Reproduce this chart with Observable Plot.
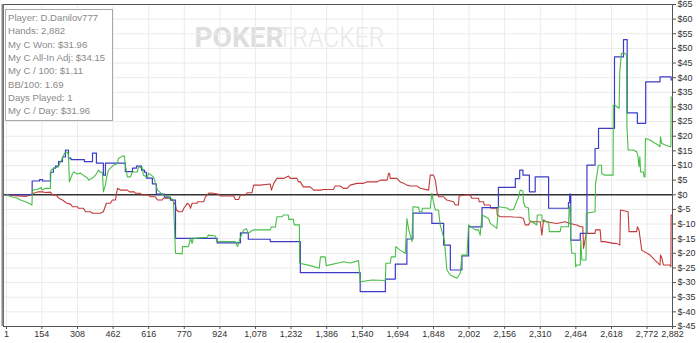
<!DOCTYPE html>
<html>
<head>
<meta charset="utf-8">
<script src="https://cdn.jsdelivr.net/npm/d3@7"></script>
<script src="https://cdn.jsdelivr.net/npm/@observablehq/plot@0.6"></script>
<style>
  html, body { margin: 0; padding: 0; background: #fff; }
  #wrap { position: relative; width: 700px; height: 343px; overflow: hidden; }
  #stats { position: absolute; left: 5px; top: 9px; width: 108px; height: 112px; box-sizing: border-box;
           border: 1px solid #a8a8a8; background: rgba(255,255,255,0.92);
           font-family: "Liberation Sans Narrow", "Arial Narrow", sans-serif; font-size: 9.6px; color: #8a8a8a; padding: 1px 0 0 2px; }
  #stats div { height: 13.35px; line-height: 13.35px; white-space: nowrap; }
</style>
</head>
<body>
<div id="wrap"></div>
<script>
// ---- Data (hand number, cumulative $) ----
const xTicks = [1,154,308,462,616,770,924,1078,1232,1386,1540,1694,1848,2002,2156,2310,2464,2618,2772,2882];
const yTicks = d3.range(-45, 70, 5);

const statsLines = [
  "Player: D.Danilov777",
  "Hands: 2,882",
  "My C Won: $31.96",
  "My C All-In Adj: $34.15",
  "My C / 100: $1.11",
  "BB/100: 1.69",
  "Days Played: 1",
  "My C / Day: $31.96"
];

// blue: showdown winnings (step changes)
const blueSeries = [[1,0],[112,4.7],[144,5.2],[157,4.7],[191,7.7],[204,9.1],[213,9.8],[226,11.3],[243,12.9],[256,15.3],[269,12.5],[280,12.0],[338,11.3],[373,14.2],[390,10.8],[420,6.7],[429,10.8],[515,7.9],[546,9.1],[563,9.8],[585,8.4],[598,7.7],[606,5.7],[632,3.7],[649,0.2],[684,-0.8],[710,-1.8],[732,-14.9],[912,-16.4],[1013,-13.0],[1047,-15.2],[1142,-16.0],[1272,-26.6],[1531,-33.1],[1640,-28.8],[1683,-23.7],[1733,-15.1],[1759,-6.3],[1841,-9.8],[1892,-17.2],[1921,-25.7],[1971,-20.9],[2000,-11.0],[2058,-4.4],[2129,2.5],[2202,5.5],[2221,8.4],[2235,6.7],[2263,1.0],[2288,6.1],[2346,-4.6],[2432,-2.7],[2437,0.2],[2442,-15.5],[2483,-13.2],[2512,10.1],[2547,15.8],[2562,22.7],[2631,47.1],[2670,53.0],[2686,28.0],[2730,24.4],[2766,38.6],[2828,40.3],[2876,39.2],[2882,39.2]];

// green: total won
const greenSeries = [[1,0],[18,-0.6],[49,-1.2],[62,-1.8],[83,-2.4],[100,-3.0],[111,-3.5],[113,1.6],[134,1.8],[151,2.5],[154,1.6],[170,2.2],[191,2.2],[193,8.4],[204,9.0],[226,9.6],[234,11.2],[243,12.4],[252,14.2],[260,14.7],[269,13.9],[273,4.4],[286,7.1],[292,7.8],[308,7.1],[321,7.4],[338,6.4],[351,5.7],[356,5.0],[373,5.7],[386,6.7],[399,8.4],[407,7.7],[416,7.7],[420,1.0],[429,3.3],[433,5.6],[442,8.4],[464,10.1],[481,10.7],[485,12.4],[503,13.2],[511,13.2],[515,10.1],[524,6.1],[537,6.1],[546,7.8],[567,7.8],[572,9.6],[589,9.1],[593,6.7],[611,6.1],[615,7.4],[637,6.1],[654,1.6],[680,-0.1],[701,-0.7],[723,-1.8],[732,-20.0],[761,-20.2],[762,-17.7],[788,-17.7],[797,-14.9],[804,-16.6],[810,-14.9],[869,-14.5],[874,-13.8],[905,-14.1],[912,-16.0],[991,-16.0],[1000,-17.7],[1013,-14.5],[1027,-12.0],[1039,-11.6],[1047,-13.2],[1063,-12.2],[1069,-12.0],[1142,-12.0],[1147,-10.9],[1164,-11.1],[1171,-7.5],[1193,-7.5],[1199,-6.9],[1220,-6.9],[1222,-8.4],[1242,-8.4],[1246,-10.3],[1268,-10.3],[1269,-23.4],[1315,-24.2],[1354,-25.1],[1359,-21.2],[1380,-21.2],[1384,-24.2],[1431,-23.4],[1459,-22.9],[1488,-23.3],[1524,-22.5],[1531,-29.7],[1583,-29.1],[1640,-29.3],[1642,-23.4],[1661,-23.4],[1665,-21.2],[1683,-21.2],[1685,-17.7],[1704,-18.9],[1726,-20.0],[1733,-8.1],[1741,-12.0],[1755,-16.0],[1759,-4.1],[1784,-4.3],[1787,-5.8],[1798,-5.8],[1800,-4.6],[1834,-4.6],[1841,0.5],[1848,-2.4],[1856,-5.2],[1870,-5.2],[1877,-10.3],[1895,-15.5],[1906,-25.7],[1921,-27.4],[1949,-28.5],[1964,-26.8],[1971,-20.6],[1993,-20.6],[2000,-10.3],[2029,-12.0],[2043,-12.0],[2050,-13.8],[2058,-6.9],[2086,-8.1],[2093,-9.7],[2122,-11.5],[2129,-4.1],[2166,-4.5],[2180,-5.2],[2194,-5.0],[2202,-3.5],[2216,-0.7],[2223,1.6],[2235,1.3],[2237,-2.4],[2245,-4.1],[2259,-4.5],[2262,-8.6],[2295,-10.3],[2297,-6.9],[2317,-6.9],[2318,-9.2],[2346,-9.2],[2349,-12.6],[2396,-12.6],[2400,-10.9],[2432,-10.9],[2435,-4.1],[2439,-4.1],[2442,-15.5],[2446,-20.0],[2461,-20.0],[2463,-24.6],[2468,-24.0],[2483,-24.0],[2485,-15.5],[2490,-22.3],[2508,-22.3],[2509,-6.3],[2547,-5.8],[2549,3.9],[2554,6.1],[2561,10.1],[2575,10.1],[2576,7.3],[2589,6.7],[2625,6.7],[2626,30.6],[2633,30.6],[2651,29.5],[2654,42.0],[2661,48.3],[2676,48.3],[2683,47.7],[2685,23.2],[2690,15.3],[2712,15.3],[2727,14.7],[2733,13.0],[2737,9.6],[2741,13.0],[2744,7.8],[2756,7.8],[2759,6.1],[2763,6.1],[2765,19.2],[2785,18.7],[2806,17.6],[2820,17.0],[2828,16.4],[2830,19.8],[2835,17.6],[2850,17.0],[2872,16.4],[2875,16.4],[2876,33.4],[2882,33.4]];

// red: non-showdown winnings
const redSeries = [[1,0],[40,-0.3],[83,-0.6],[105,-0.1],[118,0.5],[139,1.0],[157,1.0],[170,0.8],[191,0.9],[200,-0.1],[217,-0.1],[226,-1.1],[243,-1.8],[260,-2.8],[278,-3.2],[286,-4.1],[308,-4.1],[312,-4.6],[334,-4.6],[343,-5.8],[364,-5.8],[373,-6.3],[407,-6.3],[420,-5.8],[433,-2.9],[451,-2.9],[459,-1.8],[472,-1.8],[481,2.2],[494,1.6],[524,1.6],[533,1.0],[554,1.0],[559,0.5],[580,0.5],[589,-0.1],[615,-0.1],[624,-0.7],[645,-0.7],[654,-1.8],[675,-1.8],[680,-1.2],[710,-1.2],[719,-1.8],[732,-3.5],[736,-5.2],[746,-5.8],[761,-5.8],[768,-4.6],[775,-3.9],[782,-2.9],[792,-3.5],[797,-4.6],[804,-2.9],[826,-2.9],[827,-2.4],[854,-2.4],[861,-0.8],[876,0.6],[897,0.5],[919,0.2],[926,-0.4],[984,-0.4],[991,-1.6],[1005,-1.6],[1013,-0.1],[1034,-0.1],[1042,0.7],[1063,0.7],[1070,3.3],[1099,3.3],[1142,3.7],[1147,1.6],[1157,3.9],[1171,5.6],[1200,5.6],[1221,6.4],[1229,5.6],[1258,5.6],[1264,4.4],[1272,4.4],[1285,2.7],[1315,2.7],[1330,1.6],[1359,1.6],[1372,1.8],[1415,1.8],[1423,3.0],[1445,3.0],[1458,2.2],[1474,2.2],[1488,3.3],[1517,3.9],[1546,3.9],[1560,4.4],[1604,4.4],[1618,5.0],[1647,5.0],[1654,7.3],[1658,7.3],[1661,5.6],[1690,5.6],[1704,4.4],[1719,3.9],[1733,3.3],[1748,3.0],[1777,3.0],[1791,2.2],[1827,1.6],[1834,6.7],[1848,6.7],[1856,5.0],[1864,0.5],[1870,-0.7],[1892,-0.7],[1906,-1.8],[1935,-2.4],[1942,-3.5],[1956,-3.5],[1959,-0.4],[1985,-0.1],[2007,-0.1],[2014,-1.2],[2043,-1.2],[2046,-2.4],[2065,-2.4],[2068,-3.5],[2093,-3.5],[2096,-4.6],[2122,-4.6],[2124,-6.9],[2137,-7.5],[2180,-7.5],[2194,-7.6],[2223,-7.7],[2237,-8.1],[2245,-10.3],[2259,-10.3],[2266,-9.2],[2310,-9.2],[2317,-13.8],[2324,-8.6],[2339,-9.3],[2382,-9.8],[2417,-9.2],[2439,-9.8],[2468,-10.3],[2483,-10.9],[2494,-10.9],[2497,-18.3],[2509,-13.2],[2547,-13.2],[2549,-12.0],[2569,-12.0],[2573,-16.0],[2589,-16.0],[2625,-16.6],[2640,-16.6],[2654,-17.2],[2657,-5.2],[2690,-5.8],[2694,-12.6],[2727,-12.6],[2730,-10.9],[2737,-12.0],[2741,-14.3],[2749,-18.9],[2785,-20.6],[2806,-22.3],[2828,-24.0],[2830,-20.6],[2836,-21.6],[2843,-24.0],[2870,-24.0],[2875,-24.6],[2876,-6.9],[2882,-6.9]];

const toRows = s => s.map(([hand, value]) => ({hand, value}));
const fmtX = d3.format(",");

const chart = Plot.plot({
  width: 700,
  height: 343,
  marginLeft: 3,
  marginRight: 28,
  marginTop: 4,
  marginBottom: 17,
  style: {fontFamily: "'Liberation Sans', Arial, sans-serif", fontSize: "9px", color: "#333", background: "#fff", overflow: "visible"},
  x: {domain: [-12, 2882]},
  y: {domain: [-45, 65]},
  marks: [
    Plot.gridX(xTicks, {stroke: "#ebebeb", strokeOpacity: 1}),
    Plot.gridY(yTicks, {stroke: "#ebebeb", strokeOpacity: 1}),
    Plot.axisX(xTicks, {tickSize: 3, tickPadding: 1, tickFormat: fmtX, label: null, stroke: "#555"}),
    Plot.axisY(yTicks, {anchor: "right", tickSize: 3, tickPadding: 2, tickFormat: d => "$" + d, label: null, stroke: "#555"}),
    Plot.frame({stroke: "#555", strokeWidth: 1}),
    Plot.ruleY([0], {stroke: "#333", strokeWidth: 1.3}),
    Plot.line(toRows(redSeries), {x: "hand", y: "value", stroke: "#c23b3b", strokeWidth: 1.1}),
    Plot.line(toRows(blueSeries), {x: "hand", y: "value", stroke: "#3c3cc8", strokeWidth: 1.2, curve: "step-after"}),
    Plot.line(toRows(greenSeries), {x: "hand", y: "value", stroke: "#3dba3d", strokeWidth: 1.1, strokeOpacity: 0.95})
  ]
});

const wrap = document.getElementById("wrap");
wrap.appendChild(chart);

const svg = d3.select(chart);
// left border (slightly heavier gray)
svg.append("line").attr("x1", 2.5).attr("x2", 2.5).attr("y1", 4).attr("y2", 326)
   .attr("stroke", "#888").attr("stroke-width", 2);

// watermark behind everything
const wm = svg.insert("g", ":first-child").attr("pointer-events", "none");
wm.append("text").attr("x", 239).attr("y", 47).text("POKER")
  .attr("font-family", "Roboto, 'Liberation Sans', sans-serif").attr("font-weight", 700)
  .attr("font-size", 28).attr("fill", "#dedede")
  .attr("textLength", 89).attr("lengthAdjust", "spacingAndGlyphs");
wm.append("text").attr("x", 331).attr("y", 47).text("TRACKER")
  .attr("font-family", "Roboto, 'Liberation Sans', sans-serif").attr("font-weight", 300)
  .attr("font-size", 28).attr("fill", "#e8e8e8")
  .attr("textLength", 107).attr("lengthAdjust", "spacingAndGlyphs");

// stats box
const box = document.createElement("div");
box.id = "stats";
statsLines.forEach(t => { const d = document.createElement("div"); d.textContent = t; box.appendChild(d); });
wrap.appendChild(box);
</script>
</body>
</html>
